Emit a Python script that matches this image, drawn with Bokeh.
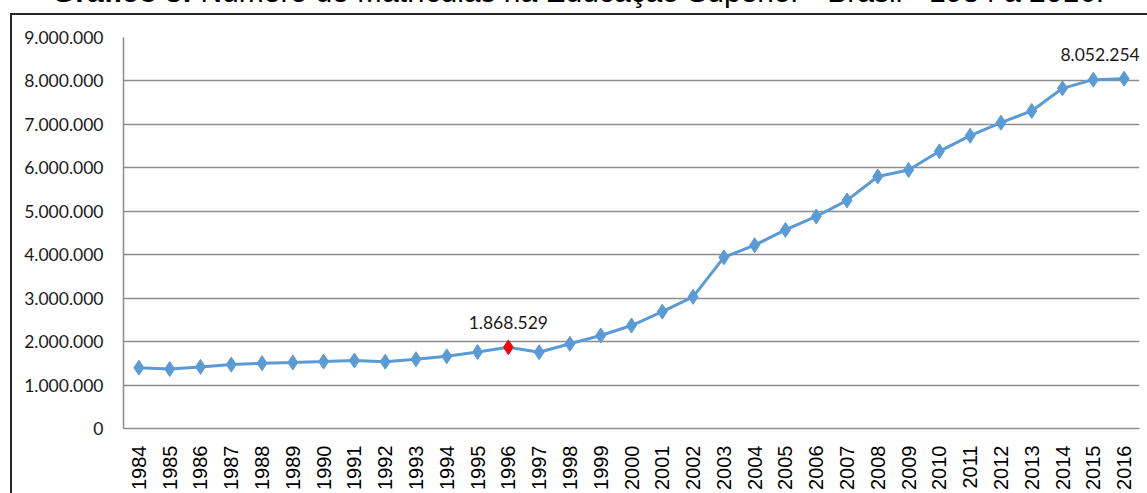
from math import pi

from bokeh.core.properties import value
from bokeh.embed import file_html
from bokeh.layouts import column
from bokeh.models import (ColumnDataSource, Div, FactorRange, FixedTicker, LabelSet,
                          Range1d)
from bokeh.plotting import figure
from bokeh.resources import INLINE

# Matrículas na educação superior, Brasil, 1984-2016
years = ["1984", "1985", "1986", "1987", "1988", "1989", "1990", "1991", "1992",
         "1993", "1994", "1995", "1996", "1997", "1998", "1999", "2000", "2001",
         "2002", "2003", "2004", "2005", "2006", "2007", "2008", "2009", "2010",
         "2011", "2012", "2013", "2014", "2015", "2016"]
enrollments = [1399539, 1367609, 1418196, 1470555, 1503555, 1518904, 1540080, 1565056,
               1535788, 1594668, 1661034, 1759703, 1868529, 1755000, 1950000, 2140000,
               2370000, 2690000, 3030000, 3940000, 4220000, 4570000, 4880000, 5250000,
               5800000, 5950000, 6380000, 6740000, 7040000, 7310000, 7830000, 8030000,
               8052254]

highlight_year = "1996"
labeled_years = ["1996", "2016"]

y_ticks = [0, 1000000, 2000000, 3000000, 4000000, 5000000, 6000000, 7000000,
           8000000, 9000000]
y_tick_labels = ["0", "1.000.000", "2.000.000", "3.000.000", "4.000.000",
                 "5.000.000", "6.000.000", "7.000.000", "8.000.000", "9.000.000"]

title_bold = "Gráfico 3:"
title_rest = "Número de Matrículas na Educação Superior - Brasil - 1984 a 2016."


def br_number(v):
    return f"{v:,}".replace(",", ".")


BLUE = "#5B9BD5"
GRID = "#8c8c8c"
FRAME = "#262626"

src = ColumnDataSource(dict(year=years, value=enrollments))

hi_idx = [years.index(highlight_year)]
hi_src = ColumnDataSource(dict(year=[years[i] for i in hi_idx],
                               value=[enrollments[i] for i in hi_idx]))

# the last label is nudged left so it stays inside the plot area
label_shift = {"1996": 0, "2016": -24}
lab_idx = [years.index(y) for y in labeled_years]
lab_src = ColumnDataSource(dict(
    year=[years[i] for i in lab_idx],
    value=[enrollments[i] for i in lab_idx],
    text=[br_number(enrollments[i]) for i in lab_idx],
    dx=[label_shift[years[i]] for i in lab_idx],
))

p = figure(width=1147, height=480,
           x_range=FactorRange(*years, range_padding=0),
           y_range=Range1d(0, 9000000),
           output_backend="svg", toolbar_location=None,
           min_border_left=123, min_border_right=8,
           min_border_top=24, min_border_bottom=65)

p.background_fill_color = "white"
p.border_fill_color = None
p.outline_line_color = None
p.margin = 0
# outer chart box: left and top edges (right/bottom lie past the page)
p.styles = {
    "background": (f"linear-gradient({FRAME}, {FRAME}) 10px 0 / 2px 100% no-repeat, "
                   f"linear-gradient({FRAME}, {FRAME}) 10px 0 / 100% 2px no-repeat, white"),
}

# axes
p.xaxis.major_label_orientation = pi / 2
p.xaxis.major_tick_line_color = None
p.xaxis.minor_tick_line_color = None
p.xaxis.major_tick_out = 0
p.xaxis.axis_line_color = GRID
p.xaxis.axis_line_width = 1.5
p.xaxis.major_label_text_font = "Liberation Sans"
p.xaxis.major_label_text_font_size = "20px"
p.xaxis.major_label_text_color = "#000000"
p.xaxis.major_label_standoff = 17

p.yaxis.ticker = FixedTicker(ticks=y_ticks)
p.yaxis.major_label_overrides = dict(zip(y_ticks, y_tick_labels))
p.yaxis.major_tick_line_color = None
p.yaxis.minor_tick_line_color = None
p.yaxis.major_tick_out = 0
p.yaxis.axis_line_color = GRID
p.yaxis.axis_line_width = 1.5
p.yaxis.major_label_text_font = "Lato"
p.yaxis.major_label_text_font_size = "17.5px"
p.yaxis.major_label_text_color = "#1a1a1a"
p.yaxis.major_label_standoff = 20

p.xgrid.visible = False
p.ygrid.ticker = FixedTicker(ticks=y_ticks)
p.ygrid.grid_line_color = GRID
p.ygrid.grid_line_width = 1.5

# series
p.line(x="year", y="value", source=src, line_color=BLUE, line_width=3)
p.scatter(x="year", y="value", source=src, marker="diamond", size=15,
          fill_color=BLUE, line_color=BLUE)
p.scatter(x="year", y="value", source=hi_src, marker="diamond", size=14,
          fill_color="#FF0000", line_color="#FF0000")

p.add_layout(LabelSet(x="year", y="value", text="text", source=lab_src,
                      x_offset="dx", y_offset=18, text_align="center",
                      text_baseline="alphabetic", text_font=value("Lato"),
                      text_font_size="17.5px", text_color="#1a1a1a"))

# title strip above the chart box (only its lower part falls on the page)
title = Div(
    text=(f'<div style="position:absolute; left:52px; top:-23px; white-space:nowrap; '
          f'font-family:\'Liberation Sans\'; font-size:30px; line-height:30px; color:#000;">'
          f'<b>{title_bold}</b> {title_rest}</div>'),
    width=1147, height=13, margin=0,
    styles={"overflow": "hidden", "position": "relative", "background": "white"},
)

layout = column(title, p, spacing=0, margin=0)

open("out.html", "w").write(file_html(layout, INLINE))
